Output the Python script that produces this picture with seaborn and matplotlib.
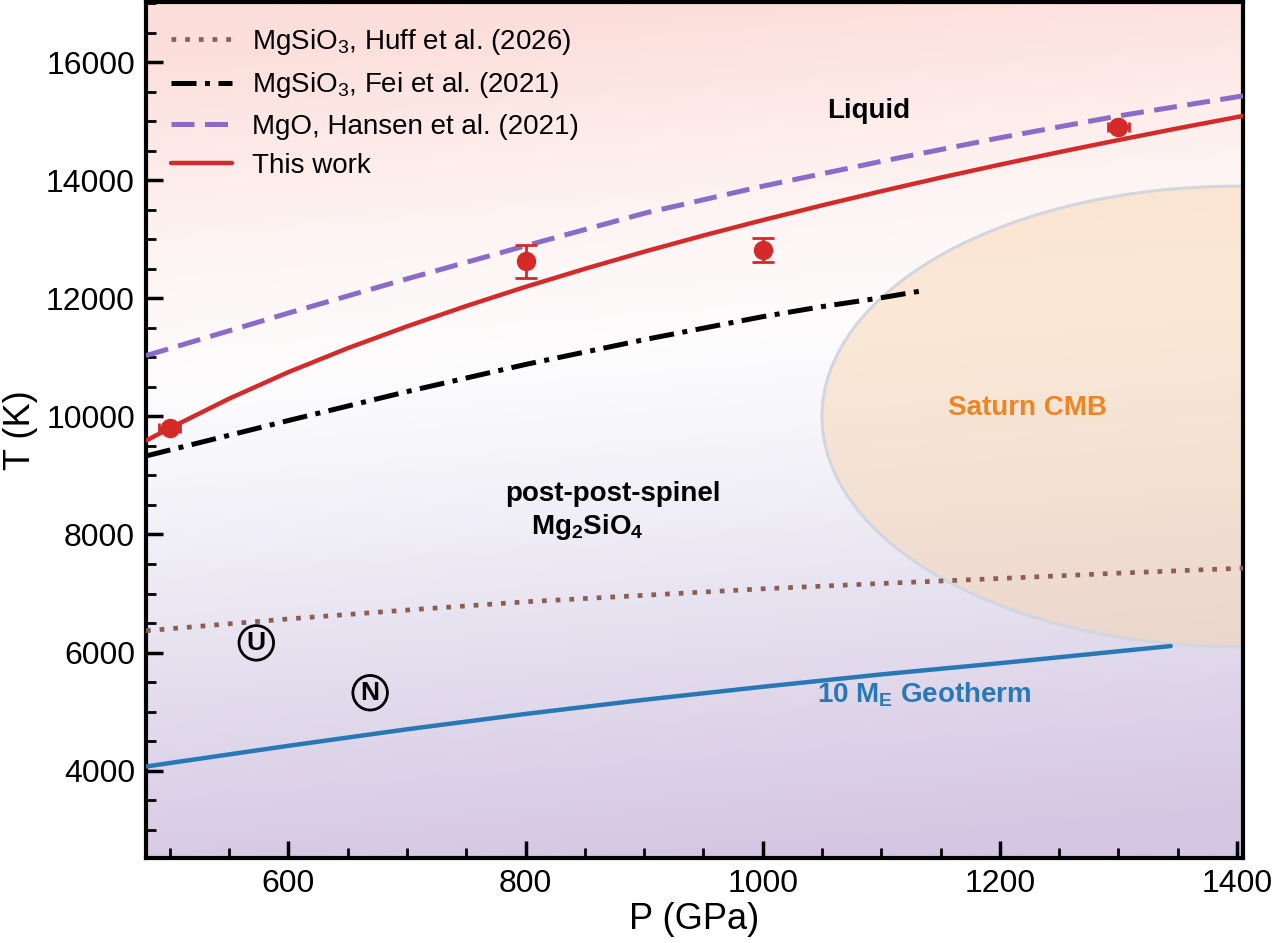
import numpy as np
import pandas as pd
import matplotlib
matplotlib.use("Agg")
import matplotlib.pyplot as plt
import seaborn as sns
from matplotlib.patches import Ellipse
from matplotlib.ticker import MultipleLocator
from matplotlib.lines import Line2D

# ---------------- data ----------------
p_this = [480, 500, 550, 600, 650, 700, 750, 800, 850, 900, 950, 1000,
          1050, 1100, 1150, 1200, 1250, 1300, 1350, 1405]
t_this = [9590, 9800, 10300, 10750, 11155, 11525, 11870, 12195, 12500, 12790,
          13065, 13325, 13575, 13815, 14045, 14265, 14477, 14682, 14880, 15090]

p_hansen = [480, 600, 700, 800, 900, 1000, 1100, 1200, 1300, 1405]
t_hansen = [11030, 11750, 12330, 12890, 13440, 13900, 14320, 14720, 15090, 15430]

p_fei = [480, 600, 700, 800, 900, 1000, 1050, 1100, 1135]
t_fei = [9330, 9930, 10420, 10880, 11300, 11690, 11860, 12010, 12130]

p_huff = [480, 600, 700, 800, 900, 1000, 1100, 1200, 1300, 1405]
t_huff = [6370, 6570, 6720, 6860, 6970, 7080, 7170, 7255, 7345, 7430]

p_geo = [480, 600, 700, 800, 900, 1000, 1100, 1200, 1344]
t_geo = [4070, 4420, 4700, 4960, 5200, 5420, 5630, 5820, 6110]

# data points with vertical error bars
p_pts_v = [800, 1000]
t_pts_v = [12630, 12820]
t_err_v = [280, 210]
# data points with small horizontal error bars
p_pts_h = [500, 1300]
t_pts_h = [9800, 14900]
p_err_h = [9, 9]

# Saturn core-mantle boundary region (centre, full width, full height)
cmb_center = (1400, 10000)
cmb_width = 700
cmb_height = 7800

legend_labels = ["MgSiO$_3$, Huff et al. (2026)",
                 "MgSiO$_3$, Fei et al. (2021)",
                 "MgO, Hansen et al. (2021)",
                 "This work"]

xlim = (480, 1405)
ylim = (2520, 17020)

# ---------------- style ----------------
sns.set_theme(style="ticks")
plt.rcParams['font.family'] = ['Liberation Sans', 'DejaVu Sans']
plt.rcParams['mathtext.fontset'] = 'custom'
plt.rcParams['mathtext.rm'] = 'Liberation Sans'
plt.rcParams['mathtext.it'] = 'Liberation Sans:italic'
plt.rcParams['mathtext.bf'] = 'Liberation Sans:bold'
for k in ['text.color', 'axes.labelcolor', 'xtick.color', 'ytick.color', 'axes.edgecolor']:
    plt.rcParams[k] = 'black'

fig = plt.figure(figsize=(12.8, 9.43), dpi=100)
ax = fig.add_axes([146 / 1280, 1 - 858 / 943, (1243 - 146) / 1280, 856 / 943])

# background gradient
ny, nx = 300, 300
yy, xx = np.mgrid[0:1:ny * 1j, 0:1:nx * 1j]
f = np.clip(yy + 0.1 * (0.5 - xx), 0, 1)
stops = np.array([0.0, 0.25, 0.45, 0.6, 0.75, 1.0])
cols = np.array([[214, 198, 227], [228, 222, 238], [243, 242, 248],
                 [253, 252, 253], [254, 245, 244], [252, 222, 218]]) / 255.0
img = np.zeros((ny, nx, 3))
for c in range(3):
    img[..., c] = np.interp(f, stops, cols[:, c])
ax.imshow(img, origin="lower", extent=[xlim[0], xlim[1], ylim[0], ylim[1]],
          aspect="auto", zorder=0, interpolation="bilinear")

# Saturn CMB ellipse
ell = Ellipse(cmb_center, cmb_width, cmb_height, facecolor=(0.97, 0.83, 0.68, 0.48),
              edgecolor="#d3d6de", lw=2.2, zorder=1)
ax.add_patch(ell)

red = "#d42a2a"
purple = "#8b6bca"
brown = "#8e5d52"
blue = "#2878b5"

sns.lineplot(x=p_huff, y=t_huff, ax=ax, color=brown, lw=3.4, zorder=3, estimator=None, sort=False)
ax.lines[-1].set_dashes((1, 1.9))
sns.lineplot(x=p_fei, y=t_fei, ax=ax, color="black", lw=3.6, zorder=3, estimator=None, sort=False)
ax.lines[-1].set_dashes((5, 1.7, 1, 1.7))
sns.lineplot(x=p_hansen, y=t_hansen, ax=ax, color=purple, lw=3.6, zorder=3, estimator=None, sort=False)
ax.lines[-1].set_dashes((4.6, 2.1))
sns.lineplot(x=p_this, y=t_this, ax=ax, color=red, lw=3.2, zorder=4, estimator=None, sort=False)
sns.lineplot(x=p_geo, y=t_geo, ax=ax, color=blue, lw=3.2, zorder=3, estimator=None, sort=False)

ax.errorbar(p_pts_v, t_pts_v, yerr=t_err_v, fmt="o", color=red, ms=13,
            capsize=8, capthick=2, elinewidth=2, zorder=5)
ax.errorbar(p_pts_h, t_pts_h, xerr=p_err_h, fmt="o", color=red, ms=13,
            capsize=3.5, capthick=2, elinewidth=2, zorder=5)

# text annotations
ax.text(1089, 15175, "Liquid", fontsize=20, fontweight="bold", ha="center", va="center", zorder=6)
ax.text(1223, 10150, "Saturn CMB", fontsize=20, fontweight="bold", color="#f08424",
        ha="center", va="center", zorder=6)
ax.text(874, 8690, "post-post-spinel", fontsize=20, fontweight="bold", ha="center", va="center", zorder=6)
ax.text(852, 8130, r"Mg$_\mathbf{2}$SiO$_\mathbf{4}$", fontsize=20, fontweight="bold",
        ha="center", va="center", zorder=6)
ax.text(1136, 5285, r"10 M$_\mathbf{E}$ Geotherm", fontsize=20, fontweight="bold", color=blue,
        ha="center", va="center", zorder=6)
for lab, px, ty in [("U", 573, 6164), ("N", 669, 5319)]:
    ax.text(px, ty, lab, fontsize=19, fontweight="bold", ha="center", va="center", zorder=6,
            bbox=dict(boxstyle="circle,pad=0.2", fc="none", ec="black", lw=2))

# legend
handles = [Line2D([], [], color=brown, lw=3.4, dashes=(1, 1.9)),
           Line2D([], [], color="black", lw=3.6, dashes=(5, 1.7, 1, 1.7)),
           Line2D([], [], color=purple, lw=3.6, dashes=(4.6, 2.1)),
           Line2D([], [], color=red, lw=3.2)]
ax.legend(handles, legend_labels, loc="upper left", frameon=False, fontsize=20,
          handlelength=2.2, handletextpad=0.7, labelspacing=0.48,
          bbox_to_anchor=(0.0, 1.0), borderaxespad=0.5)

# axes
ax.set_xlim(*xlim)
ax.set_ylim(*ylim)
ax.xaxis.set_major_locator(MultipleLocator(200))
ax.xaxis.set_minor_locator(MultipleLocator(50))
ax.yaxis.set_major_locator(MultipleLocator(2000))
ax.yaxis.set_minor_locator(MultipleLocator(500))
ax.tick_params(which="major", direction="in", length=12, width=2.5, labelsize=23, pad=8)
ax.tick_params(which="minor", direction="in", length=7, width=2)
for s in ax.spines.values():
    s.set_linewidth(3)
    s.set_visible(True)
ax.set_xlabel("P (GPa)", fontsize=26, labelpad=2)
ax.set_ylabel("T (K)", fontsize=26, labelpad=6)

fig.savefig("out.png", dpi=100)
